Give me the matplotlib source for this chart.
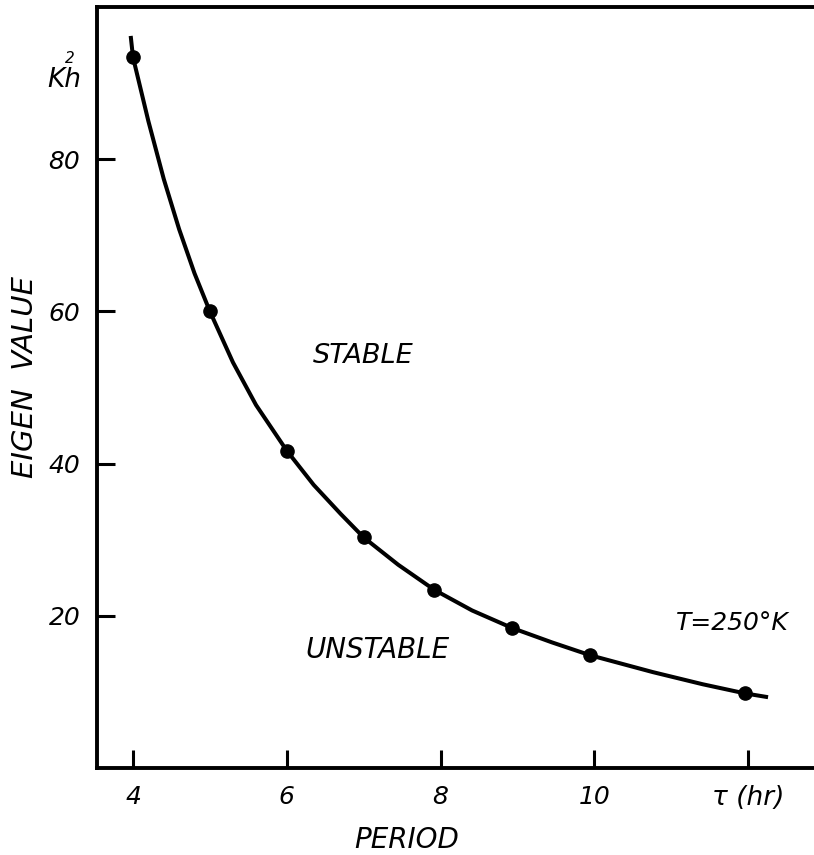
import matplotlib
matplotlib.use("Agg")
import matplotlib.pyplot as plt

# computed points (period in hours, eigen value Kh^2)
period = [4, 5, 6, 7, 7.92, 8.93, 9.95, 11.96]
eigen = [93.4, 60.0, 41.7, 30.3, 23.4, 18.4, 14.8, 9.8]

# hand drawn curve through the points
curve_period = [3.97, 4.0, 4.2, 4.4, 4.6, 4.8, 5.0, 5.3, 5.6, 6.0, 6.35, 6.7,
                7.0, 7.45, 7.92, 8.41, 8.93, 9.45, 9.95, 10.76, 11.41, 11.96, 12.26]
curve_eigen = [96.2, 93.4, 85.0, 77.4, 70.8, 65.0, 60.0, 53.3, 47.7, 41.7, 37.2, 33.4,
               30.3, 26.7, 23.4, 20.7, 18.4, 16.5, 14.8, 12.6, 11.0, 9.8, 9.3]

xticks = [4, 6, 8, 10, 12]
xtick_labels = ["4", "6", "8", "10", "τ (hr)"]
yticks = [20, 40, 60, 80]

plt.rcParams['font.family'] = ['DejaVu Sans']
plt.rcParams['font.style'] = 'italic'

fig = plt.figure(figsize=(8.14, 8.55), dpi=100)
ax = fig.add_axes([0.119, 0.1018, 0.885, 0.890])

ax.plot(curve_period, curve_eigen, color='black', lw=2.9, solid_capstyle='butt',
        solid_joinstyle='round', zorder=2)
ax.plot(period, eigen, 'o', color='black', markersize=9.5, zorder=3)

ax.set_xlim(3.53, 12.9)
ax.set_ylim(0, 100)

ax.spines['right'].set_visible(False)
for side in ['left', 'bottom', 'top']:
    ax.spines[side].set_linewidth(2.8)

ax.set_xticks(xticks)
ax.set_xticklabels(xtick_labels)
ax.set_yticks(yticks)
ax.tick_params(direction='in', length=13, width=2.2, labelsize=18, top=False, right=False)
ax.tick_params(axis='x', pad=12)
ax.tick_params(axis='y', pad=12)
ax.get_xticklabels()[-1].set_fontsize(19)

ax.text(0.430, -0.076, "PERIOD", transform=ax.transAxes, ha='center', va='top', fontsize=20)
ax.text(-0.100, 0.514, "EIGEN  VALUE", transform=ax.transAxes, ha='center', va='center',
        rotation=90, fontsize=21)
ax.text(-0.021, 0.904, "Kh", transform=ax.transAxes, ha='right', va='center', fontsize=19)
ax.text(-0.038, 0.932, "2", transform=ax.transAxes, ha='center', va='center', fontsize=11)

ax.text(7.0, 54.1, "STABLE", ha='center', va='center', fontsize=19.5)
ax.text(7.18, 15.5, "UNSTABLE", ha='center', va='center', fontsize=20)
ax.text(11.79, 19.1, "T=250°K", ha='center', va='center', fontsize=18)

fig.savefig("out.png", dpi=100)
